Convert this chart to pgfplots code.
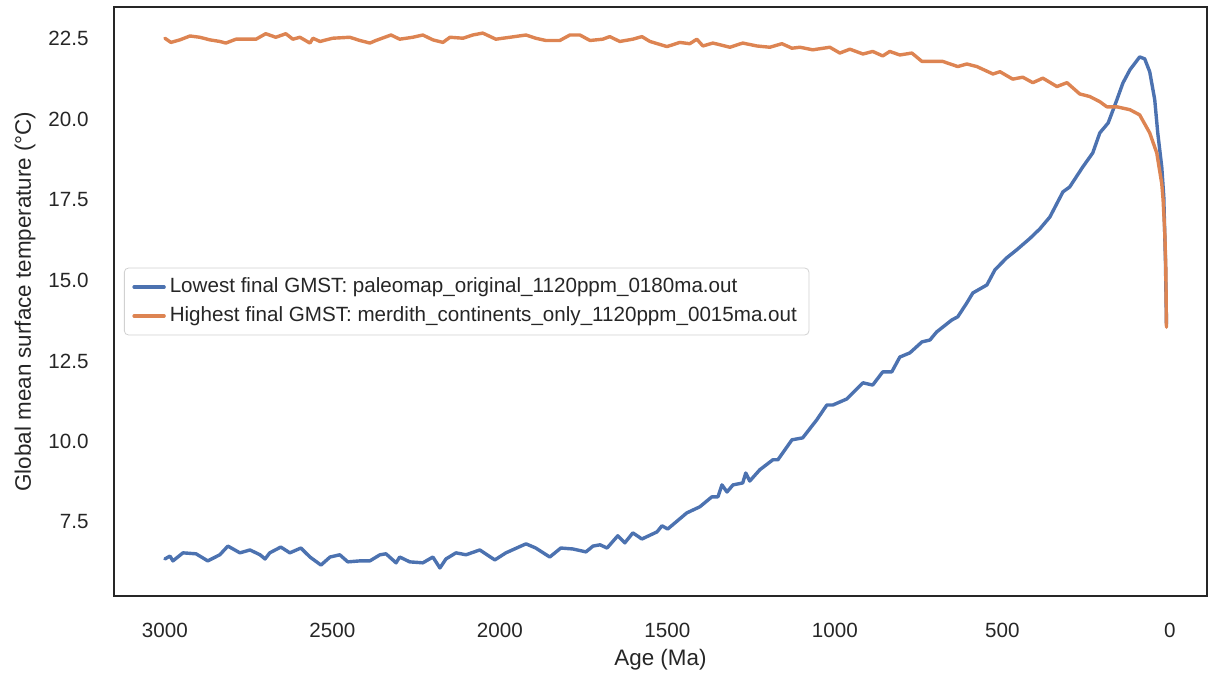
\documentclass[border=0pt]{standalone}
\usepackage{fontspec}
\setmainfont{Liberation Sans}
\usepackage{pgfplots}
\pgfplotsset{compat=1.18}
\definecolor{sbblue}{RGB}{76,114,176}
\definecolor{sborange}{RGB}{221,132,82}
\definecolor{sbdark}{RGB}{38,38,38}
\begin{document}
\begin{tikzpicture}
\path[use as bounding box] (0,0) rectangle (605pt,337pt);
\begin{axis}[
  at={(57pt,39pt)}, anchor=south west,
  scale only axis, width=546.5pt, height=294.5pt,
  x dir=reverse, xmin=-111, xmax=3152, ymin=5.20, ymax=23.49,
  xtick={0,500,1000,1500,2000,2500,3000},
  ytick={7.5,10,12.5,15,17.5,20,22.5},
  major tick length=0pt,
  scaled x ticks=false, scaled y ticks=false,
  axis line style={sbdark, line width=1.3pt},
  /pgf/number format/assume math mode=true,
  xticklabel style={font=\fontsize{10.3}{12}\selectfont, text=sbdark, anchor=center, yshift=-17pt, /pgf/number format/1000 sep={}},
  yticklabel style={font=\fontsize{10.3}{12}\selectfont, text=sbdark, anchor=east, inner sep=0pt, xshift=-12.5pt, /pgf/number format/.cd, fixed, fixed zerofill, precision=1},
  every axis x label/.style={at={(axis description cs:0.5,0)}, anchor=center, yshift=-32pt, font=\fontsize{11.2}{13}\selectfont, text=sbdark},
  every axis y label/.style={at={(axis description cs:-0.0814,0.5)}, anchor=center, rotate=90, font=\fontsize{11.2}{13}\selectfont, text=sbdark},
  xlabel={Age (Ma)},
  ylabel={Global mean surface temperature (°C)},
  legend cell align=left,
  legend style={at={(axis description cs:0,0.5)}, anchor=west, xshift=5pt, draw=black!18, rounded corners=2pt, fill=white, font=\fontsize{10.3}{12}\selectfont, text=sbdark, inner xsep=4pt, inner ysep=3pt, row sep=1.5pt},
  legend image code/.code={\draw[#1] (0pt,0pt) -- (15pt,0pt);},
]
\addplot[sbblue, line width=1.7pt, line join=round, line cap=round] coordinates {
(3000,6.35) (2985,6.44) (2976,6.29) (2946,6.54) (2907,6.51) (2872,6.29) (2836,6.48) (2812,6.75) (2776,6.54) (2746,6.63) (2716,6.48) (2701,6.35) (2687,6.54) (2654,6.72) (2627,6.54) (2594,6.69) (2567,6.41) (2534,6.16) (2507,6.41) (2478,6.48) (2454,6.26) (2418,6.29) (2388,6.29) (2358,6.48) (2340,6.51) (2310,6.23) (2299,6.41) (2269,6.26) (2230,6.23) (2200,6.41) (2179,6.07) (2161,6.35) (2131,6.54) (2101,6.48) (2060,6.63) (2015,6.32) (1982,6.54) (1922,6.82) (1893,6.69) (1851,6.41) (1818,6.69) (1782,6.66) (1743,6.57) (1722,6.75) (1701,6.79) (1680,6.69) (1648,7.07) (1627,6.85) (1603,7.16) (1576,6.97) (1531,7.19) (1516,7.38) (1499,7.28) (1442,7.78) (1403,7.97) (1367,8.28) (1349,8.28) (1337,8.65) (1322,8.43) (1304,8.65) (1275,8.71) (1266,9.02) (1254,8.77) (1224,9.12) (1185,9.43) (1170,9.43) (1128,10.05) (1096,10.11) (1054,10.67) (1024,11.13) (1006,11.13) (964,11.32) (916,11.82) (887,11.75) (857,12.16) (830,12.16) (806,12.62) (776,12.75) (740,13.09) (716,13.15) (696,13.40) (651,13.77) (633,13.87) (606,14.30) (588,14.61) (546,14.86) (522,15.33) (487,15.70) (457,15.95) (418,16.30) (388,16.60) (358,16.97) (319,17.75) (299,17.90) (260,18.52) (230,18.96) (209,19.58) (184,19.89) (158,20.61) (140,21.13) (119,21.54) (90,21.94) (75,21.88) (60,21.48) (45,20.61) (36,19.58) (24,18.52) (18,17.6) (13,15.6) (10,13.65)
};
\addlegendentry{Lowest final GMST: paleomap\_original\_1120ppm\_0180ma.out}
\addplot[sborange, line width=1.7pt, line join=round, line cap=round] coordinates {
(3000,22.52) (2982,22.39) (2955,22.47) (2925,22.59) (2896,22.55) (2866,22.47) (2836,22.42) (2818,22.37) (2788,22.49) (2728,22.49) (2699,22.66) (2669,22.55) (2639,22.66) (2618,22.49) (2597,22.55) (2567,22.37) (2558,22.52) (2537,22.42) (2499,22.52) (2448,22.55) (2418,22.45) (2388,22.37) (2370,22.45) (2325,22.62) (2299,22.49) (2260,22.55) (2230,22.62) (2200,22.47) (2170,22.39) (2149,22.55) (2110,22.52) (2081,22.62) (2051,22.68) (2012,22.49) (1970,22.55) (1922,22.62) (1893,22.52) (1863,22.45) (1821,22.45) (1791,22.62) (1761,22.62) (1731,22.45) (1693,22.49) (1672,22.57) (1642,22.42) (1603,22.49) (1576,22.57) (1552,22.42) (1501,22.26) (1463,22.39) (1433,22.35) (1412,22.49) (1394,22.28) (1364,22.37) (1313,22.24) (1275,22.37) (1233,22.28) (1194,22.24) (1158,22.35) (1128,22.21) (1104,22.24) (1066,22.16) (1015,22.24) (985,22.06) (955,22.18) (916,22.03) (887,22.11) (857,21.97) (836,22.11) (806,22.00) (770,22.06) (740,21.80) (707,21.80) (678,21.80) (633,21.64) (606,21.72) (576,21.64) (528,21.41) (507,21.48) (469,21.25) (439,21.31) (409,21.14) (379,21.28) (337,21.02) (307,21.14) (269,20.79) (239,20.71) (209,20.55) (188,20.39) (158,20.39) (119,20.30) (90,20.14) (60,19.58) (39,18.96) (24,18.00) (20,17.5) (15,16.47) (12,15.42) (10,13.55)
};
\addlegendentry{Highest final GMST: merdith\_continents\_only\_1120ppm\_0015ma.out}
\end{axis}
\end{tikzpicture}
\end{document}
